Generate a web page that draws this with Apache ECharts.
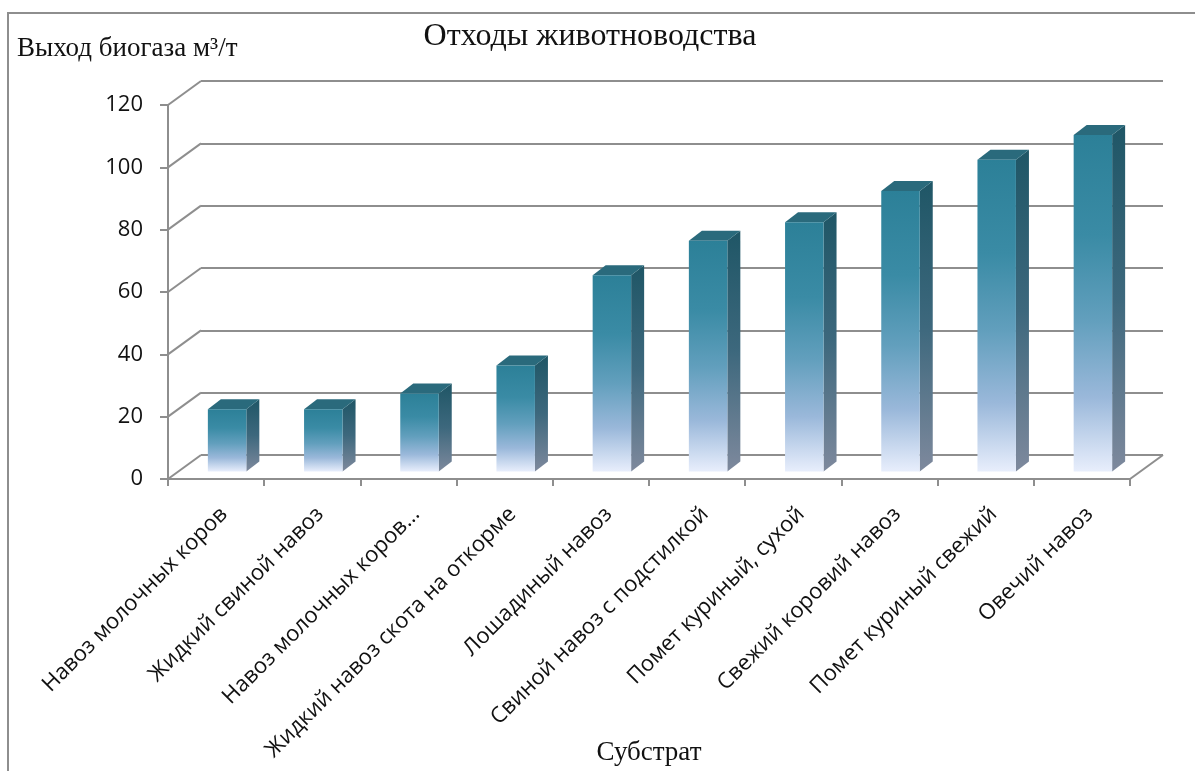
<!DOCTYPE html>
<html>
<head>
<meta charset="utf-8">
<script src="https://cdn.jsdelivr.net/npm/echarts@6/dist/echarts.min.js"></script>
<style>
  html, body { margin: 0; padding: 0; background: #fff; }
  #chart { width: 1195px; height: 771px; }
</style>
</head>
<body>
<div id="chart"></div>
<script>
// Biogas yield by substrate (animal waste), m³ per tonne
const categories = [
  'Навоз молочных коров',
  'Жидкий свиной навоз',
  'Навоз молочных коров...',
  'Жидкий навоз скота на откорме',
  'Лошадиный навоз',
  'Свиной навоз с подстилкой',
  'Помет куриный, сухой',
  'Свежий коровий навоз',
  'Помет куриный свежий',
  'Овечий навоз'
];
const values = [20, 20, 25, 34, 63, 74, 80, 90, 100, 108];
const yTicks = [0, 20, 40, 60, 80, 100, 120];

const chartTitle = 'Отходы животноводства';
const yName = 'Выход биогаза м³/т';
const xName = 'Субстрат';

// perspective offsets (px): back wall, bar front face, bar depth
const WALL = [33, -24];
const BAR_FRONT = [11, -7.5];
const BAR_DEPTH = [13, -10];

const LINE = '#8e8e8e';

const chart = echarts.init(document.getElementById('chart'));

const frontGradient = new echarts.graphic.LinearGradient(0, 0, 0, 1, [
  { offset: 0, color: '#2c8098' },
  { offset: 0.3, color: '#3a8ba5' },
  { offset: 0.55, color: '#629fbd' },
  { offset: 0.78, color: '#9ab8da' },
  { offset: 1, color: '#e8eefc' }
]);
const sideGradient = new echarts.graphic.LinearGradient(0, 0, 0, 1, [
  { offset: 0, color: '#1f5666' },
  { offset: 0.5, color: '#3d687d' },
  { offset: 1, color: '#7e899d' }
]);

function renderBar(params, api) {
  const i = api.value(0);
  const v = api.value(1);
  const base = api.coord([i, 0]);
  const top = api.coord([i, v]);
  const band = api.size([1, 0])[0];
  const w = band * 0.4;
  const x0 = base[0] + BAR_FRONT[0] - w / 2;
  const x1 = x0 + w;
  const yT = top[1] + BAR_FRONT[1];
  const yB = base[1] + BAR_FRONT[1];
  const dx = BAR_DEPTH[0], dy = BAR_DEPTH[1];
  return {
    type: 'group',
    children: [
      { type: 'polygon', shape: { points: [[x1, yT], [x1 + dx, yT + dy], [x1 + dx, yB + dy], [x1, yB]] },
        style: { fill: sideGradient } },
      { type: 'polygon', shape: { points: [[x0, yT], [x0 + dx, yT + dy], [x1 + dx, yT + dy], [x1, yT]] },
        style: { fill: '#2a6a7c' } },
      { type: 'rect', shape: { x: x0, y: yT, width: w, height: yB - yT },
        style: { fill: frontGradient } }
    ]
  };
}

// diagonal edges of the side wall at each tick, from the front axis to the back wall
function renderWallEdge(params, api) {
  const p = api.coord([0, api.value(0)]);
  const band = api.size([1, 0])[0];
  const x = p[0] - band / 2;
  return { type: 'line', shape: { x1: x, y1: p[1], x2: x + WALL[0], y2: p[1] + WALL[1] },
    style: { stroke: LINE, lineWidth: 2 } };
}
// right edge of the floor
function renderFloorEdge(params, api) {
  const p = api.coord([api.value(0), api.value(1)]);
  const band = api.size([1, 0])[0];
  const x = p[0] + band / 2;
  return { type: 'line', shape: { x1: x, y1: p[1], x2: x + WALL[0], y2: p[1] + WALL[1] },
    style: { stroke: LINE, lineWidth: 2 } };
}

const gridFront = { left: 168, top: 105, width: 962, height: 374, outerBoundsMode: 'none', containLabel: false };
const gridBack = { left: 168 + WALL[0], top: 105 + WALL[1], width: 962, height: 374, outerBoundsMode: 'none', containLabel: false };

chart.setOption({
  backgroundColor: '#ffffff',
  animation: false,
  grid: [gridFront, gridBack],
  xAxis: [
    {
      type: 'category', gridIndex: 0, data: categories,
      axisLine: { lineStyle: { color: LINE, width: 2 } },
      axisTick: { show: true, length: 7, lineStyle: { color: LINE, width: 2 } },
      axisLabel: {
        interval: 0, rotate: 45, margin: 24, verticalAlign: 'top',
        fontFamily: 'Open Sans', fontSize: 22, color: '#111'
      },
      name: xName, nameLocation: 'middle', nameGap: 260, nameMoveOverlap: false,
      nameTextStyle: { fontFamily: 'Liberation Serif', fontSize: 27, color: '#111' }
    },
    { type: 'category', gridIndex: 1, data: categories, show: false }
  ],
  yAxis: [
    {
      type: 'value', gridIndex: 0, min: 0, max: 120, interval: 20,
      axisLine: { show: true, lineStyle: { color: LINE, width: 2 } },
      axisTick: { show: true, length: 8, lineStyle: { color: LINE, width: 2 } },
      splitLine: { show: false },
      axisLabel: { margin: 25, fontFamily: 'Open Sans', fontSize: 22, color: '#111' }
    },
    {
      type: 'value', gridIndex: 1, min: 0, max: 120, interval: 20,
      axisLine: { show: false }, axisTick: { show: false }, axisLabel: { show: false },
      splitLine: { show: true, lineStyle: { color: LINE, width: 2 } }
    }
  ],
  graphic: [
    { type: 'rect', shape: { x: 8, y: 13, width: 1400, height: 1000 },
      style: { fill: 'none', stroke: '#8e8e8e', lineWidth: 2 }, z: 100 },
    { type: 'text', x: 590, y: 37,
      style: { text: chartTitle, font: '32px "Liberation Serif"', fill: '#111', align: 'center', verticalAlign: 'middle' } },
    { type: 'text', x: 17, y: 49,
      style: { text: yName, font: '27px "Liberation Serif"', fill: '#111', align: 'left', verticalAlign: 'middle' } }
  ],
  series: [
    { type: 'custom', xAxisIndex: 0, yAxisIndex: 0, data: yTicks.map(v => [v]),
      renderItem: renderWallEdge, silent: true, z: 1 },
    { type: 'custom', xAxisIndex: 0, yAxisIndex: 0, data: [[categories.length - 1, 0]],
      renderItem: renderFloorEdge, silent: true, z: 1 },
    { type: 'custom', xAxisIndex: 0, yAxisIndex: 0,
      data: values.map((v, i) => [i, v]),
      renderItem: renderBar, z: 5 }
  ]
});
</script>
</body>
</html>
